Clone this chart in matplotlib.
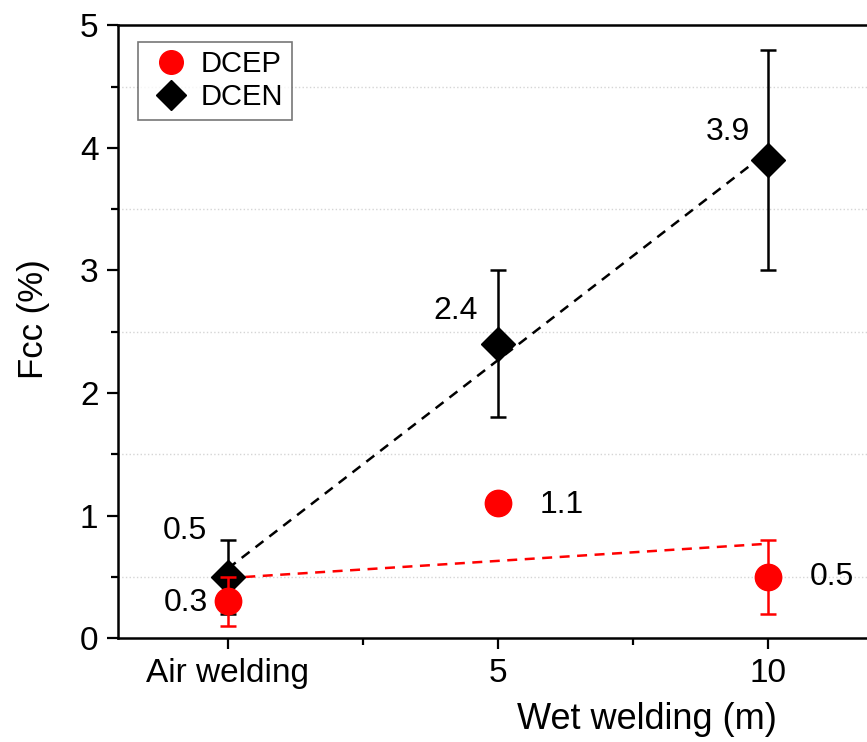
import matplotlib.pyplot as plt
from matplotlib.lines import Line2D
import numpy as np

plt.rcParams['font.family'] = ['Liberation Sans', 'DejaVu Sans']

# categories on the x axis
categories = ['Air welding', '5', '10']
xpos = [0, 1, 2]

# DCEP / DCEN values and error bars
dcep = [0.3, 1.1, 0.5]
dcep_err = [0.2, 0.0, 0.3]
dcen = [0.5, 2.4, 3.9]
dcen_err = [0.3, 0.6, 0.9]

# dashed trend lines (start / end values)
trend_x = [0, 2]
dcep_trend = [0.49, 0.77]
dcen_trend = [0.567, 3.967]

fig = plt.figure(figsize=(8.67, 7.42), dpi=100)
ax = fig.add_axes([0.136, 0.140, 0.872, 0.826])

ax.plot(trend_x, dcen_trend, color='black', lw=1.8, dashes=(4, 3), zorder=2)
ax.plot(trend_x, dcep_trend, color='#ff0000', lw=1.8, dashes=(4, 3), zorder=2)

ax.errorbar(xpos, dcen, yerr=dcen_err, fmt='D', color='black', ms=17,
            ecolor='black', elinewidth=1.8, capsize=6, capthick=1.8, zorder=3)
ax.errorbar(xpos, dcep, yerr=[e if e > 0 else np.nan for e in dcep_err], fmt='o',
            color='#ff0000', ms=19, ecolor='#ff0000', elinewidth=1.8,
            capsize=6, capthick=1.8, zorder=4)

# value labels (offsets in points)
fs = 23
ax.annotate('0.5', (xpos[0], dcen[0]), xytext=(-15, 33), textcoords='offset points',
            fontsize=fs, ha='right', va='center')
ax.annotate('0.3', (xpos[0], dcep[0]), xytext=(-14, -1), textcoords='offset points',
            fontsize=fs, ha='right', va='center')
ax.annotate('2.4', (xpos[1], dcen[1]), xytext=(-14, 24), textcoords='offset points',
            fontsize=fs, ha='right', va='center')
ax.annotate('1.1', (xpos[1], dcep[1]), xytext=(30, -1), textcoords='offset points',
            fontsize=fs, ha='left', va='center')
ax.annotate('3.9', (xpos[2], dcen[2]), xytext=(-13, 20), textcoords='offset points',
            fontsize=fs, ha='right', va='center')
ax.annotate('0.5', (xpos[2], dcep[2]), xytext=(30, 0), textcoords='offset points',
            fontsize=fs, ha='left', va='center')

ax.set_xlim(-0.407, 2.393)
ax.set_ylim(0, 5)
ax.set_xticks(xpos)
ax.set_xticklabels(categories)
ax.set_xticks([0.5, 1.5], minor=True)
ax.set_yticks([0, 1, 2, 3, 4, 5])
ax.set_yticks([0.5, 1.5, 2.5, 3.5, 4.5], minor=True)
ax.tick_params(which='major', direction='out', length=8, width=1.6, labelsize=24, pad=6)
ax.tick_params(which='minor', direction='out', length=5, width=1.6)
ax.grid(which='minor', axis='y', ls=':', color='#d5d5d5', lw=1)

for s in ax.spines.values():
    s.set_linewidth(1.8)
ax.spines['right'].set_visible(False)

ax.set_ylabel('Fcc (%)', fontsize=25)
ax.yaxis.set_label_coords(-0.09, 0.52)
ax.set_xlabel('Wet welding (m)', fontsize=26)
ax.xaxis.set_label_coords(0.70, -0.105)

handles = [Line2D([], [], ls='none', marker='o', color='#ff0000', ms=17),
           Line2D([], [], ls='none', marker='D', color='black', ms=15)]
leg = ax.legend(handles, ['DCEP', 'DCEN'], loc='upper left', fontsize=21,
                bbox_to_anchor=(0.007, 0.997), fancybox=False, edgecolor='#555555',
                handletextpad=0.15, borderpad=0.3, labelspacing=0.15, handlelength=1.7)
leg.get_frame().set_linewidth(1.2)

fig.savefig('out.png', dpi=100)
